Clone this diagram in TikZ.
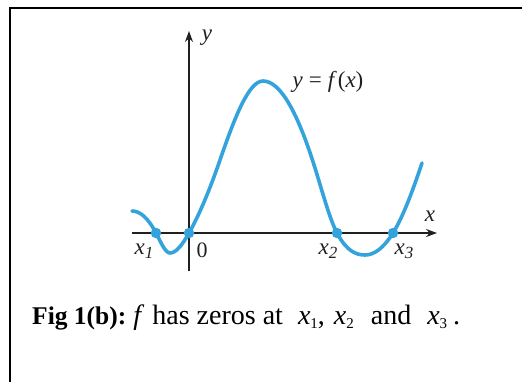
\documentclass[tikz,border=0pt]{standalone}
\usepackage{fontspec}
\setmainfont{Liberation Serif}
\usetikzlibrary{arrows.meta}
\definecolor{curveblue}{RGB}{52,163,220}
\definecolor{axisgray}{RGB}{35,31,32}
\tikzset{
  axisline/.style={draw=axisgray, line width=1.2pt, -{Stealth[length=11pt,width=8pt]}},
  curveline/.style={draw=curveblue, line width=3.6pt, line cap=round},
  zerodot/.style={circle, fill=curveblue, inner sep=0pt, minimum size=10.5pt},
  lbl/.style={font=\fontsize{23}{23}\selectfont\itshape, text=axisgray, inner sep=0pt},
  lblup/.style={font=\fontsize{22}{22}\selectfont, text=axisgray, inner sep=0pt},
  frameline/.style={draw=black, line width=2pt},
}
\newcommand{\xsub}[2]{\textit{x}\raisebox{-0.35ex}{\fontsize{#2}{#2}\selectfont #1}}
\begin{document}
\begin{tikzpicture}[x=1pt,y=-1pt]
\useasboundingbox (0,0) rectangle (522,381);
% frame
\coordinate (fa) at (10,400);
\coordinate (fb) at (10,8);
\coordinate (fc) at (540,8);
\draw[frameline] (fa) -- (fb) -- (fc);
% axes
\coordinate (xs) at (132,233);
\coordinate (xe) at (437,233);
\coordinate (ys) at (189,271);
\coordinate (ye) at (189,31);
\draw[axisline] (xs) -- (xe);
\draw[axisline] (ys) -- (ye);
\node[lbl] (ylab) at (207,38) {y};
\node[lbl] (xlab) at (430,216) {x};
% curve
\coordinate (p0) at (132,211);
\coordinate (px1) at (156,233);
\coordinate (pm1) at (170,253);
\coordinate (pz) at (189,233);
\coordinate (pi1) at (220,160);
\coordinate (pmax) at (263,81);
\coordinate (pi2) at (315,168);
\coordinate (px2) at (337,233);
\coordinate (pm2) at (365,255);
\coordinate (px3) at (393,233);
\coordinate (pend) at (422,163);
\draw[curveline] (p0)
  .. controls (140,211) and (148,217.8) .. (px1)
  .. controls (160.67,241.9) and (165.33,253) .. (pm1)
  .. controls (176.33,253) and (182.67,244.1) .. (pz)
  .. controls (199.33,214.8) and (209.67,190) .. (pi1)
  .. controls (234.33,118.4) and (248.67,81) .. (pmax)
  .. controls (280.33,81) and (297.67,112.5) .. (pi2)
  .. controls (322.33,191.5) and (329.67,219.1) .. (px2)
  .. controls (346.33,250.7) and (355.67,255) .. (pm2)
  .. controls (374.33,255) and (383.67,247.9) .. (px3)
  .. controls (402.67,217.5) and (412.33,192) .. (pend);
% zero dots
\node[zerodot] (z1) at (px1) {};
\node[zerodot] (z0) at (pz) {};
\node[zerodot] (z2) at (px2) {};
\node[zerodot] (z3) at (px3) {};
% labels
\node[lbl] (l1) at (144,251) {\xsub{1}{17}};
\node[lblup] (l0) at (202,250) {0};
\node[lbl] (l2) at (328,251) {\xsub{2}{17}};
\node[lbl] (l3) at (404,251) {\xsub{3}{17}};
\node[lblup, font=\fontsize{23}{23}\selectfont] (fx) at (328,82) {\textit{y}\hspace{6pt}=\hspace{6pt}\textit{f}\hspace{1pt}(\textit{x})};
% caption
\node[anchor=base west, inner sep=0pt, font=\fontsize{28}{28}\selectfont] (cap) at (32,324)
 {{\fontsize{25.5}{25.5}\selectfont\textbf{Fig 1(b):}}\hspace{7pt}\textit{f}\hspace{1pt} has zeros at\hspace{15pt}\xsub{1}{15},\hspace{9pt}\xsub{2}{15}\hspace{17pt}and\hspace{16pt}\xsub{3}{15}\hspace{6pt}.};
\end{tikzpicture}
\end{document}
